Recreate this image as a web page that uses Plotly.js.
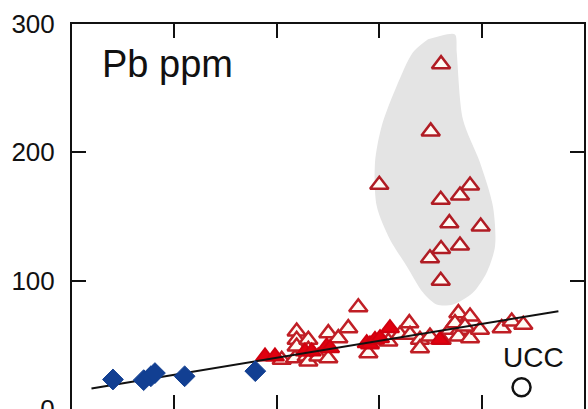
<!DOCTYPE html>
<html>
<head>
<meta charset="utf-8">
<script src="https://cdn.plot.ly/plotly-3.0.1.min.js"></script>
<style>
  html, body { margin: 0; padding: 0; background: #fff; overflow: hidden; }
  #chart { width: 588px; height: 419px; }
</style>
</head>
<body>
<div id="chart"></div>
<script>
// Blue diamonds (low-Pb group)
const diamondX = [0.40, 0.70, 0.77, 0.81, 1.10, 1.79];
const diamondY = [23, 22.5, 25.5, 28, 25.5, 29.5];

// Filled red triangles
const solidTriX = [1.885, 1.982, 2.275, 2.341, 2.487, 2.520, 2.878, 2.910, 2.959, 3.008, 3.105, 3.594];
const solidTriY = [40.9, 40.9, 44.8, 44.8, 48.7, 47.4, 51.3, 50.3, 53.9, 55.2, 63.0, 53.9];

// Open red triangles along the trend
const openTriX = [2.048, 2.178, 2.194, 2.194, 2.194, 2.308, 2.308, 2.292, 2.308, 2.405,
                  2.503, 2.503, 2.601, 2.698, 2.796, 2.894, 3.089, 3.203, 3.294, 3.301,
                  3.398, 3.398, 3.496, 3.610, 3.691, 3.773, 3.887, 3.789, 3.773, 3.887,
                  3.984, 4.196, 4.294, 4.407, 3.740, 3.838];
const openTriY = [38.3, 39.6, 60.4, 53.9, 48.7, 53.9, 46.1, 40.9, 37.0, 40.9,
                  59.1, 39.6, 55.2, 63.0, 79.3, 43.5, 52.6, 57.8, 66.9, 57.8,
                  53.9, 47.4, 56.5, 53.9, 61.7, 74.7, 72.1, 61.7, 56.5, 55.2,
                  61.7, 63.0, 68.2, 65.6, 66.9, 64.3];

// Open red triangles with high Pb (inside the shaded field)
const highTriX = [3.604, 3.503, 3.001, 3.887, 3.789, 3.601, 3.685, 3.991, 3.789, 3.604, 3.496, 3.601];
const highTriY = [268.7, 216.3, 174.7, 174.2, 166.4, 163.1, 144.8, 142.2, 127.4, 124.6, 117.5, 99.9];

// Shaded field outline
const fieldX = [3.594, 3.740, 3.757, 3.818, 3.984, 4.111, 4.131, 4.050, 3.916, 3.721,
                3.561, 3.428, 3.269, 3.105, 2.976, 2.959, 3.024, 3.171, 3.330, 3.477];
const fieldY = [290.6, 291.9, 277.9, 225.6, 192.1, 157.8, 126.7, 106.4, 90.8, 81.5,
                81.5, 90.8, 111.3, 132.1, 158.1, 192.1, 220.4, 251.6, 277.9, 288.1];

// Trend line end points
const trendX = [0.19, 4.75];
const trendY = [16, 76.2];

// Upper continental crust reference
const uccX = [4.39];
const uccY = [17];

const FONT = 'Liberation Sans, Arial, sans-serif';
const AXIS = '#111';

const traces = [
  {
    x: fieldX, y: fieldY, type: 'scatter', mode: 'lines',
    fill: 'toself', fillcolor: '#e4e4e4',
    line: { color: 'rgba(0,0,0,0)', width: 0, shape: 'spline', smoothing: 0.8 },
    hoverinfo: 'skip'
  },
  {
    x: openTriX, y: openTriY, type: 'scatter', mode: 'markers',
    marker: { symbol: 'triangle-up', size: 16, color: '#fffaf4',
              line: { color: '#c01e25', width: 2.5 } }
  },
  {
    x: highTriX, y: highTriY, type: 'scatter', mode: 'markers',
    marker: { symbol: 'triangle-up', size: 16, color: '#fffaf4',
              line: { color: '#b01c24', width: 2.5 } }
  },
  {
    x: solidTriX, y: solidTriY, type: 'scatter', mode: 'markers',
    marker: { symbol: 'triangle-up', size: 16, color: '#e0000f',
              line: { color: '#d0000f', width: 2 } }
  },
  {
    x: trendX, y: trendY, type: 'scatter', mode: 'lines',
    line: { color: '#111', width: 2 }
  },
  {
    x: diamondX, y: diamondY, type: 'scatter', mode: 'markers',
    marker: { symbol: 'diamond', size: 16, color: '#123f92',
              line: { color: '#123f92', width: 1 } }
  },
  {
    x: uccX, y: uccY, type: 'scatter', mode: 'markers',
    marker: { symbol: 'circle-open', size: 18, color: '#111',
              line: { color: '#111', width: 2.5 } }
  }
];

const layout = {
  width: 588, height: 419,
  margin: { l: 72, r: 4, t: 24, b: 10 },
  paper_bgcolor: '#fff', plot_bgcolor: '#fff',
  showlegend: false,
  xaxis: {
    range: [0, 5], tick0: 0, dtick: 1,
    ticks: 'inside', ticklen: 14, tickwidth: 2, tickcolor: AXIS,
    showline: true, linewidth: 2, linecolor: AXIS, mirror: 'ticks',
    showgrid: false, zeroline: false, showticklabels: false, fixedrange: true
  },
  yaxis: {
    range: [0, 300], tick0: 0, dtick: 100,
    ticks: 'inside', ticklen: 14, tickwidth: 2, tickcolor: AXIS,
    showline: true, linewidth: 2, linecolor: AXIS, mirror: 'ticks',
    showgrid: false, zeroline: false, fixedrange: true,
    tickfont: { family: FONT, size: 26, color: '#111' },
    ticklabelstandoff: 10, ticklabeloverflow: 'allow'
  },
  annotations: [
    { x: 0.27, y: 269, xref: 'x', yref: 'y', xanchor: 'left', yanchor: 'middle',
      text: 'Pb ppm', showarrow: false,
      font: { family: FONT, size: 38, color: '#111' } },
    { x: 4.51, y: 40.5, xref: 'x', yref: 'y', xanchor: 'center', yanchor: 'middle',
      text: 'UCC', showarrow: false,
      font: { family: FONT, size: 28, color: '#111' } }
  ]
};

Plotly.newPlot('chart', traces, layout, { displayModeBar: false, staticPlot: true });
</script>
</body>
</html>
